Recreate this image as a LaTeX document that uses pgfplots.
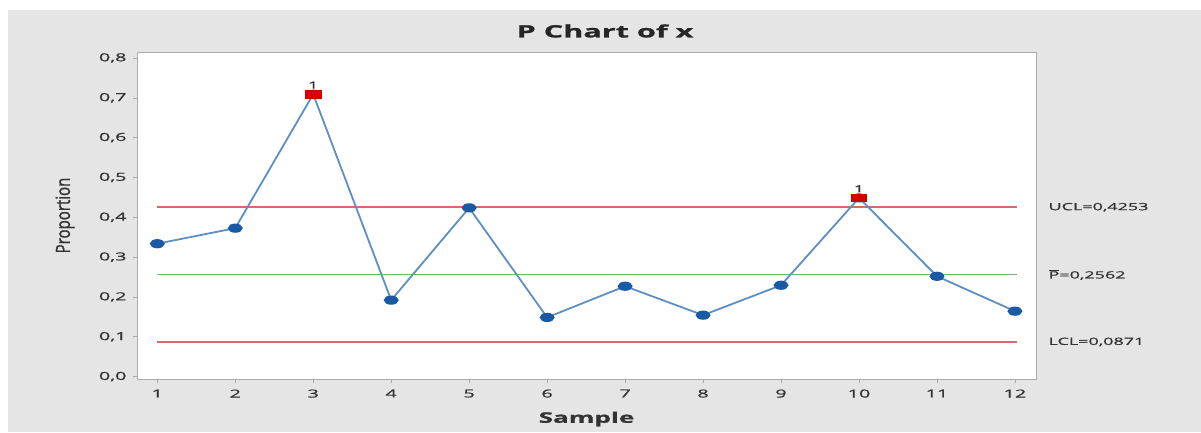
\documentclass[border=0pt]{standalone}
\usepackage{graphicx}
\usepackage{pgfplots}
\pgfplotsset{compat=1.18}
\usepackage{fontspec}
\setmainfont{Open Sans}[FakeStretch=1.8, FakeBold=1.0]
\newfontfamily\plainfont{Open Sans}[FakeBold=1.2]
\definecolor{bg}{HTML}{E5E5E5}
\definecolor{uclcol}{HTML}{D9686B}
\definecolor{cline}{HTML}{72B872}
\definecolor{dataline}{HTML}{5E8FC4}
\definecolor{datamark}{HTML}{1A5AA5}
\definecolor{redmark}{HTML}{D40000}
\definecolor{txt}{HTML}{333333}
\definecolor{frame}{HTML}{ABABAB}

\pgfplotstableread{
s p
1 0.3337
2 0.3727
3 0.7090
4 0.1920
5 0.4237
6 0.1486
7 0.2269
8 0.1543
9 0.2294
10 0.4487
11 0.2519
12 0.1643
}\pdata

\begin{document}
\begin{tikzpicture}[x=1pt,y=1pt]
\fill[white] (0,0) rectangle (1201,432);
\fill[bg] (8,0) rectangle (1201,422);
\node[font=\fontsize{17}{20}\selectfont\bfseries, text=black!85] at (605,401) {P Chart of x};
\begin{axis}[
  at={(137pt,53pt)}, anchor=south west,
  width=899pt, height=327pt, scale only axis,
  clip=false,
  xmin=0.74, xmax=12.27, ymin=-0.006, ymax=0.815,
  axis background/.style={fill=white},
  axis line style={draw=frame, line width=0.8pt},
  xtick={1,2,3,4,5,6,7,8,9,10,11,12},
  ytick={0,0.1,0.2,0.3,0.4,0.5,0.6,0.7,0.8},
  xtick pos=bottom, ytick pos=left,
  tick align=outside,
  major tick length=4pt,
  tick style={draw=frame, line width=0.6pt},
  /pgf/number format/assume math mode=true,
  yticklabel style={xshift=-3pt, /pgf/number format/.cd, fixed, fixed zerofill, precision=1, use comma},
  xticklabel style={yshift=-3pt},
  ticklabel style={font=\fontsize{11}{13}\selectfont, text=txt},
  xlabel={Sample},
  xlabel style={at={(axis description cs:0.5,0)}, anchor=center, yshift=-40pt,
    font=\fontsize{14.5}{16}\selectfont\bfseries, text=txt},
  ylabel={\scalebox{1}[1.3]{\plainfont Proportion}},
  ylabel style={at={(axis description cs:-0.080,0.5)}, anchor=center,
    font=\fontsize{15}{17}\selectfont, text=txt},
]
\addplot[draw=uclcol, line width=1.7pt, forget plot] coordinates {(1,0.4253) (12.03,0.4253)};
\addplot[draw=uclcol, line width=1.7pt, forget plot] coordinates {(1,0.0871) (12.03,0.0871)};
\addplot[draw=cline, line width=1.7pt, forget plot] coordinates {(1,0.2562) (12.03,0.2562)};
\addplot[draw=dataline, line width=1.8pt, mark=*, mark size=3.7pt,
  mark options={fill=datamark, draw=datamark, xscale=1.75}] table[x=s, y=p] {\pdata};
\addplot[only marks, mark=square*, mark size=3.8pt,
  mark options={fill=redmark, draw=redmark, xscale=2},
  nodes near coords={1},
  nodes near coords style={font=\fontsize{10}{10}\selectfont, text=txt, yshift=2pt}]
  coordinates {(3,0.7090) (10,0.4487)};
\node[anchor=west, font=\fontsize{10}{12}\selectfont, text=txt, xshift=9pt] at (axis cs:12.27,0.4253) {UCL=0,4253};
\node[anchor=west, font=\fontsize{10}{12}\selectfont, text=txt, xshift=9pt] at (axis cs:12.27,0.2562) {$\overline{\mbox{P}}$=0,2562};
\node[anchor=west, font=\fontsize{10}{12}\selectfont, text=txt, xshift=9pt] at (axis cs:12.27,0.0871) {LCL=0,0871};
\end{axis}
\end{tikzpicture}
\end{document}
